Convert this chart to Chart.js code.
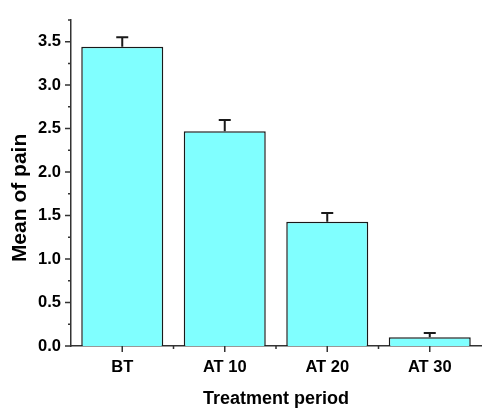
<!DOCTYPE html>
<html>
<head>
<meta charset="utf-8">
<script src="https://cdn.jsdelivr.net/npm/chart.js@4"></script>
<style>
  html, body { margin: 0; padding: 0; background: #fff; }
  canvas { display: block; }
</style>
</head>
<body>
<canvas id="painChart" width="482" height="410"></canvas>
<script>
var periods = ["BT", "AT 10", "AT 20", "AT 30"];
var meanPain = [3.44, 2.47, 1.43, 0.10];
var painError = [0.11, 0.13, 0.10, 0.05];
var yTicks = [0, 0.5, 1, 1.5, 2, 2.5, 3, 3.5];
var yMinorTicks = [0.25, 0.75, 1.25, 1.75, 2.25, 2.75, 3.25, 3.75];

var fillColor = "rgb(128, 255, 255)";
var inkColor = "#1a1a1a";
var axisColor = "#333333";
var fontFamily = "'Liberation Sans', Arial, sans-serif";

// outward tick marks: long on labelled values, short in between
var tickMarks = {
  id: "tickMarks",
  afterDraw: function (chart) {
    var ctx = chart.ctx;
    var x = chart.scales.x;
    var y = chart.scales.y;
    var left = chart.chartArea.left;
    var bottom = chart.chartArea.bottom;
    ctx.save();
    ctx.strokeStyle = axisColor;
    ctx.lineWidth = 1.5;
    ctx.beginPath();
    yTicks.forEach(function (v) {
      var py = y.getPixelForValue(v);
      ctx.moveTo(left, py);
      ctx.lineTo(left - 6, py);
    });
    yMinorTicks.forEach(function (v) {
      var py = y.getPixelForValue(v);
      ctx.moveTo(left, py);
      ctx.lineTo(left - 3, py);
    });
    periods.forEach(function (p, i) {
      var px = x.getPixelForValue(i);
      ctx.moveTo(px, bottom);
      ctx.lineTo(px, bottom + 6);
      if (i > 0) {
        var mx = (px + x.getPixelForValue(i - 1)) / 2;
        ctx.moveTo(mx, bottom);
        ctx.lineTo(mx, bottom + 3);
      }
    });
    ctx.stroke();

    // y axis title, sits a bit below the axis middle like the original
    ctx.fillStyle = "#000";
    ctx.font = "bold 21px " + fontFamily;
    ctx.textAlign = "center";
    ctx.textBaseline = "middle";
    ctx.translate(20, (chart.chartArea.top + bottom) / 2 + 15);
    ctx.rotate(-Math.PI / 2);
    ctx.fillText("Mean of pain", 0, 0);
    ctx.restore();
  }
};

// upper error bars (SD) on each column
var errorBars = {
  id: "errorBars",
  afterDatasetsDraw: function (chart) {
    var ctx = chart.ctx;
    var y = chart.scales.y;
    var meta = chart.getDatasetMeta(0);
    ctx.save();
    ctx.strokeStyle = inkColor;
    ctx.lineWidth = 2;
    ctx.beginPath();
    meta.data.forEach(function (bar, i) {
      var top = y.getPixelForValue(meanPain[i] + painError[i]);
      ctx.moveTo(bar.x, bar.y);
      ctx.lineTo(bar.x, top);
      ctx.moveTo(bar.x - 6, top);
      ctx.lineTo(bar.x + 6, top);
    });
    ctx.stroke();
    ctx.restore();
  }
};

var painChart = new Chart(document.getElementById("painChart"), {
  type: "bar",
  data: {
    labels: periods,
    datasets: [
      {
        label: "Mean of pain",
        data: meanPain,
        backgroundColor: fillColor,
        borderColor: inkColor,
        borderWidth: 1.5,
        barPercentage: 1,
        categoryPercentage: 0.8,
      },
    ],
  },
  options: {
    responsive: false,
    animation: false,
    layout: { padding: { left: 0, right: 1, top: 15, bottom: 0 } },
    plugins: {
      legend: { display: false },
      tooltip: { enabled: false },
    },
    scales: {
      x: {
        grid: { display: false, drawTicks: false },
        border: { display: true, color: axisColor, width: 1.5 },
        ticks: {
          color: "#000",
          padding: 12,
          font: { family: fontFamily, size: 16.5, weight: "bold" },
        },
        title: {
          display: true,
          text: "Treatment period",
          color: "#000",
          padding: { top: 0, bottom: 0.5 },
          font: { family: fontFamily, size: 18, weight: "bold" },
        },
        afterFit: function (scale) { scale.height = 64; },
      },
      y: {
        min: 0,
        max: 3.75,
        grid: { display: false, drawTicks: false },
        border: { display: true, color: axisColor, width: 1.5 },
        ticks: {
          color: "#000",
          padding: 10,
          font: { family: fontFamily, size: 16.5, weight: "bold" },
          callback: function (v) { return v.toFixed(1); },
        },
        afterBuildTicks: function (scale) {
          scale.ticks = yTicks.map(function (v) { return { value: v }; });
        },
        afterFit: function (scale) { scale.width = 71; },
      },
    },
  },
  plugins: [tickMarks, errorBars],
});
</script>
</body>
</html>
